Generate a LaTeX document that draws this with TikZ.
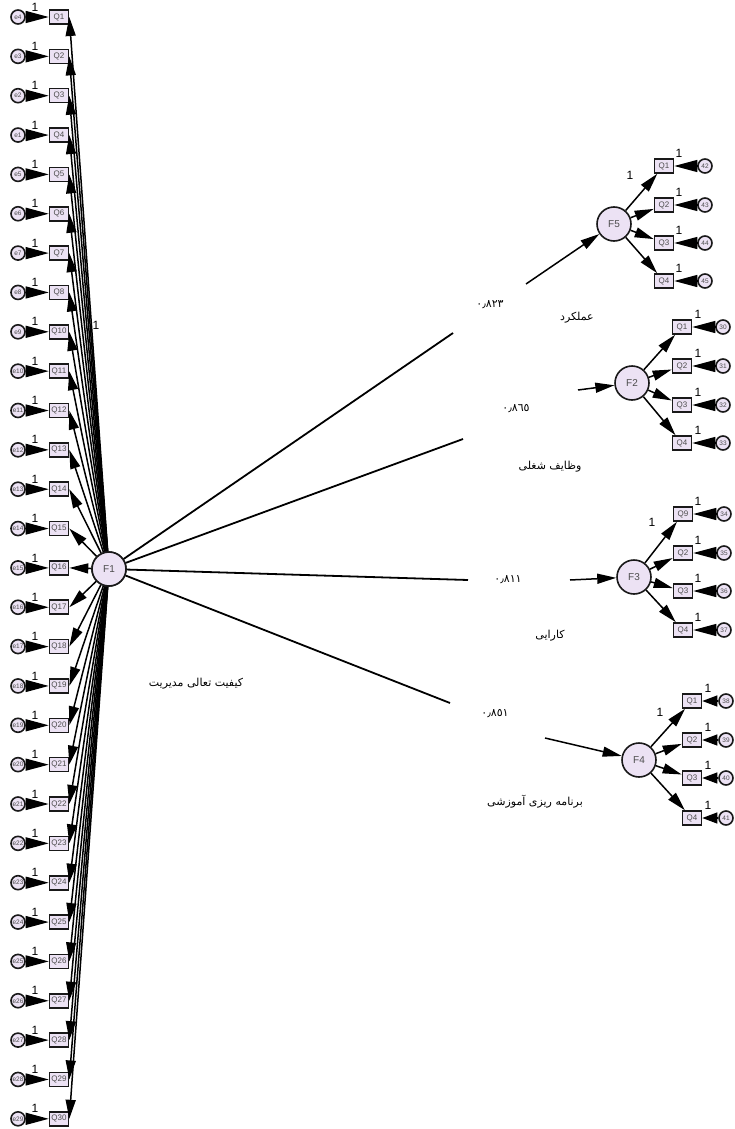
\documentclass[tikz,border=0pt]{standalone}
\usepackage{fontspec}
\setmainfont{Liberation Sans}
\newfontfamily\arabicfont[Script=Arabic]{DejaVu Sans}
\TeXXeTstate=1
\usetikzlibrary{arrows.meta}
\definecolor{lav}{RGB}{236,226,244}
\begin{document}
\begin{tikzpicture}[x=1pt,y=-1pt,
 obs/.style={draw=black!90,line width=1.6pt,fill=lav,minimum width=19pt,minimum height=14pt,inner sep=0pt,font=\fontsize{8}{9}\selectfont,text=black!70},
 err/.style={circle,draw=black!90,line width=1.6pt,fill=lav,minimum size=14pt,inner sep=0pt,font=\fontsize{6.5}{7}\selectfont,text=black!70},
 lat/.style={circle,draw=black!90,line width=1.6pt,fill=lav,minimum size=34pt,inner sep=0pt,font=\fontsize{10}{11}\selectfont,text=black!70},
 earr/.style={-{Triangle[length=23pt,width=12pt]},line width=1.2pt},
 searr/.style={-{Triangle[length=15pt,width=11pt]},line width=1.2pt},
 larr/.style={-{Triangle[length=19pt,width=10pt]},line width=1.5pt},
 path/.style={line width=1.8pt},
 one/.style={font=\fontsize{12}{12}\selectfont,inner sep=0pt},
 fa/.style={font=\arabicfont\fontsize{11}{12}\selectfont,inner sep=0pt},
]
\useasboundingbox (0,0) rectangle (735,1129);
\fill[white] (0,0) rectangle (735,1129);

% main latent factor
\node[lat] (F1) at (109,569) {F1};

% left column
\foreach [count=\k] \q/\e in {1/4,2/3,3/2,4/1,5/5,6/6,7/7,8/8,10/9,11/10,12/11,13/12,14/13,15/14,16/15,17/16,18/17,19/18,20/19,21/20,22/21,23/22,24/23,25/24,26/25,27/26,28/27,29/28,30/29}{
  \pgfmathsetmacro\yy{17+(\k-1)*39.35}
  \pgfmathsetmacro\yo{\yy-10}
  \node[obs] (L\k) at (59,\yy) {Q\q};
  \node[err] (E\k) at (18,\yy) {e\e};
  \draw[earr] (E\k) -- (L\k);
  \node[one] (O\k) at (35,\yo) {1};
}
\foreach \k in {1,...,29}{
  \draw[larr] (F1) -- (L\k.east);
}
\node[lat] (F1b) at (109,569) {F1};
\node[one] (O0) at (96,325) {1};

% right factors
\node[lat] (F5) at (614,224) {F5};
\node[lat] (F2) at (632,383) {F2};
\node[lat] (F3) at (634,577) {F3};
\node[lat] (F4) at (639,760) {F4};

% F5 block
\foreach [count=\k] \q/\e/\y in {1/42/166,2/43/205,3/44/243,4/45/281}{
  \pgfmathsetmacro\yo{\y-13}
  \node[obs] (A\k) at (664,\y) {Q\q};
  \node[err] (AE\k) at (705,\y) {\e};
  \draw[earr] (AE\k) -- (A\k);
  \draw[larr] (F5) -- (A\k);
  \node[one] (AO\k) at (679,\yo) {1};
}
% F2 block
\foreach [count=\k] \q/\e/\y in {1/30/327,2/31/366,3/32/405,4/33/443}{
  \pgfmathsetmacro\yo{\y-13}
  \node[obs] (B\k) at (682,\y) {Q\q};
  \node[err] (BE\k) at (723,\y) {\e};
  \draw[earr] (BE\k) -- (B\k);
  \draw[larr] (F2) -- (B\k);
  \node[one] (BO\k) at (698,\yo) {1};
}
% F3 block
\foreach [count=\k] \q/\e/\y in {9/34/514,2/35/553,3/36/591,4/37/630}{
  \pgfmathsetmacro\yo{\y-13}
  \node[obs] (C\k) at (683,\y) {Q\q};
  \node[err] (CE\k) at (724,\y) {\e};
  \draw[earr] (CE\k) -- (C\k);
  \draw[larr] (F3) -- (C\k);
  \node[one] (CO\k) at (698,\yo) {1};
}
% F4 block
\foreach [count=\k] \q/\e/\y in {1/38/701,2/39/740,3/40/778,4/41/818}{
  \pgfmathsetmacro\yo{\y-13}
  \node[obs] (D\k) at (692,\y) {Q\q};
  \node[err] (DE\k) at (726,\y) {\e};
  \draw[searr] (DE\k) -- (D\k);
  \draw[larr] (F4) -- (D\k);
  \node[one] (DO\k) at (708,\yo) {1};
}
\node[one] (A0) at (630,175) {1};
\node[one] (C0) at (652,522) {1};
\node[one] (D0) at (660,712) {1};

% structural paths (broken)
\coordinate (p5) at (453,333);
\coordinate (s5) at (526,284);
\coordinate (p2) at (463,439);
\coordinate (s2) at (578,390);
\coordinate (p3) at (468,580);
\coordinate (s3) at (570,580);
\coordinate (p4) at (450,703);
\coordinate (s4) at (545,738);
\draw[path] (F1) -- (p5);
\draw[path] (F1) -- (p2);
\draw[path] (F1) -- (p3);
\draw[path] (F1) -- (p4);
\draw[larr] (s5) -- (F5);
\draw[larr] (s2) -- (F2);
\draw[larr] (s3) -- (F3);
\draw[larr] (s4) -- (F4);

% labels
\node[fa] (n5) at (490,305) {٠٫٨٢٣};
\node[fa] (t5) at (577,318) {\beginR عملکرد\endR};
\node[fa] (n2) at (516,409) {٠٫٨٦٥};
\node[fa] (t2) at (550,467) {\beginR وظایف شغلی\endR};
\node[fa] (n3) at (508,580) {٠٫٨١١};
\node[fa] (t3) at (550,636) {\beginR کارایی\endR};
\node[fa] (n4) at (495,714) {٠٫٨٥١};
\node[fa] (t4) at (535,802) {\beginR برنامه ریزی آموزشی\endR};
\node[fa] (t1) at (196,684) {\beginR کیفیت تعالی مدیریت\endR};
\end{tikzpicture}
\end{document}
